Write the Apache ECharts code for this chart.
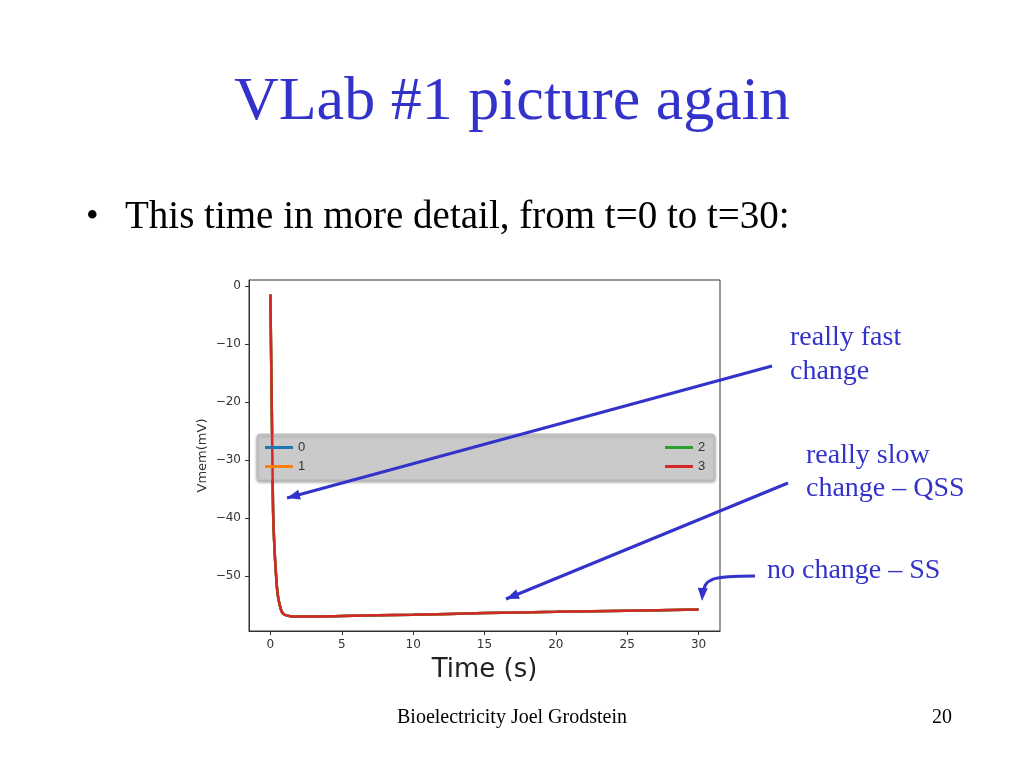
<!DOCTYPE html>
<html>
<head>
<meta charset="utf-8">
<script src="https://cdn.jsdelivr.net/npm/echarts@6/dist/echarts.min.js"></script>
<style>html,body{margin:0;padding:0;background:#fff}#main{width:1024px;height:768px}</style>
</head>
<body>
<div id="main"></div>
<script>
// time (s) and membrane voltage (mV)
const times = [0, 0.05, 0.1, 0.15, 0.2, 0.3, 0.4, 0.5, 0.65, 0.8, 1.0, 1.3, 1.7, 2.5, 5, 10, 15, 20, 25, 30];
const vmem = [-1.5, -12, -22, -32, -40, -46, -50, -53, -55, -56.2, -56.7, -56.9, -57, -57, -56.9, -56.7, -56.4, -56.2, -56.0, -55.8];
const seriesNames = ['0', '1', '2', '3'];
const seriesColors = ['#1f77b4', '#ff7f0e', '#2ca02c', '#d62728'];
const xTicks = [0, 5, 10, 15, 20, 25, 30];
const yTicks = [0, -10, -20, -30, -40, -50];

const points = times.map((t, i) => [t, vmem[i]]);
const blue = '#3333cc';

// arrow head helper for annotation arrows
function head(x1, y1, x2, y2) {
  const a = Math.atan2(y2 - y1, x2 - x1), L = 13, W = 5;
  const bx = x2 - L * Math.cos(a), by = y2 - L * Math.sin(a);
  return { type: 'polygon', z: 100, shape: { points: [[x2, y2],
    [bx + W * Math.sin(a), by - W * Math.cos(a)], [bx - W * Math.sin(a), by + W * Math.cos(a)]] },
    style: { fill: blue } };
}
function arrow(x1, y1, x2, y2) {
  return [{ type: 'line', z: 100, shape: { x1, y1, x2, y2 }, style: { stroke: blue, lineWidth: 3 } }, head(x1, y1, x2, y2)];
}

const chart = echarts.init(document.getElementById('main'));
chart.setOption({
  animation: false,
  grid: { left: 249, right: 304, top: 280, bottom: 137 },
  xAxis: {
    type: 'value', min: -1.5, max: 31.5, interval: 5,
    name: 'Time (s)', nameLocation: 'middle', nameGap: 26,
    nameTextStyle: { fontSize: 26, color: '#222', fontFamily: 'DejaVu Sans' },
    axisLine: { onZero: false, lineStyle: { color: '#333' } },
    axisTick: { show: true, customValues: xTicks, length: 4 },
    axisLabel: { customValues: xTicks, fontSize: 12, color: '#333', fontFamily: 'DejaVu Sans' },
    splitLine: { show: false }
  },
  yAxis: {
    type: 'value', min: -59.5, max: 1,
    name: 'Vmem(mV)', nameLocation: 'middle', nameGap: 40,
    nameTextStyle: { fontSize: 13, color: '#333', fontFamily: 'DejaVu Sans' },
    axisLine: { show: true, onZero: false, lineStyle: { color: '#333' } },
    axisTick: { show: true, customValues: yTicks, length: 4 },
    axisLabel: { customValues: yTicks, fontSize: 12, color: '#333', fontFamily: 'DejaVu Sans',
      formatter: v => String(v).replace('-', '\u2212') },
    splitLine: { show: false }
  },
  legend: [
    { data: ['0', '1'], left: 260, top: 436, orient: 'vertical', itemGap: 6, itemWidth: 28, itemHeight: 3,
      icon: 'rect', textStyle: { fontSize: 13, color: '#333' }, z: 10 },
    { data: ['2', '3'], left: 660, top: 436, orient: 'vertical', itemGap: 6, itemWidth: 28, itemHeight: 3,
      icon: 'rect', textStyle: { fontSize: 13, color: '#333' }, z: 10 }
  ],
  series: seriesNames.map((n, i) => ({
    name: n, type: 'line', data: points, showSymbol: false, smooth: 0.3,
    color: seriesColors[i], lineStyle: { width: 2.5, color: seriesColors[i] }, z: 2 + i
  })),
  graphic: [
    { type: 'rect', z: 1, shape: { x: 249, y: 280, width: 471, height: 351 }, style: { fill: null, stroke: '#333', lineWidth: 1 } },
    { type: 'rect', z: 5, shape: { x: 257, y: 434, width: 458, height: 46, r: 3 },
      style: { fill: 'rgba(205,205,205,0.9)', stroke: '#bbb', shadowBlur: 3, shadowColor: 'rgba(0,0,0,0.35)', shadowOffsetY: 2 } },
    { type: 'text', x: 512, y: 103, style: { text: 'VLab #1 picture again', fill: blue, font: '62px "Liberation Serif"', align: 'center', verticalAlign: 'middle' } },
    { type: 'text', x: 86, y: 218, style: { text: '\u2022', fill: '#000', font: '36px "Liberation Serif"', verticalAlign: 'middle' } },
    { type: 'text', x: 125, y: 218, style: { text: 'This time in more detail, from t=0 to t=30:', fill: '#000', font: '39px "Liberation Serif"', verticalAlign: 'middle' } },
    { type: 'text', x: 790, y: 338, style: { text: 'really fast', fill: blue, font: '28px "Liberation Serif"', verticalAlign: 'middle' } },
    { type: 'text', x: 790, y: 372, style: { text: 'change', fill: blue, font: '28px "Liberation Serif"', verticalAlign: 'middle' } },
    { type: 'text', x: 806, y: 456, style: { text: 'really slow', fill: blue, font: '28px "Liberation Serif"', verticalAlign: 'middle' } },
    { type: 'text', x: 806, y: 489, style: { text: 'change \u2013 QSS', fill: blue, font: '28px "Liberation Serif"', verticalAlign: 'middle' } },
    { type: 'text', x: 767, y: 571, style: { text: 'no change \u2013 SS', fill: blue, font: '28px "Liberation Serif"', verticalAlign: 'middle' } },
    { type: 'text', x: 512, y: 718, style: { text: 'Bioelectricity Joel Grodstein', fill: '#000', font: '20px "Liberation Serif"', align: 'center', verticalAlign: 'middle' } },
    { type: 'text', x: 942, y: 718, style: { text: '20', fill: '#000', font: '20px "Liberation Serif"', align: 'center', verticalAlign: 'middle' } },
    ...arrow(772, 366, 287, 498),
    ...arrow(788, 483, 506, 599),
    { type: 'bezierCurve', z: 100, shape: { x1: 755, y1: 576, x2: 703, y2: 595, cpx1: 712, cpy1: 576, cpx2: 704, cpy2: 578 },
      style: { stroke: blue, lineWidth: 3, fill: null } },
    head(703, 585, 702, 601)
  ]
});
</script>
</body>
</html>
